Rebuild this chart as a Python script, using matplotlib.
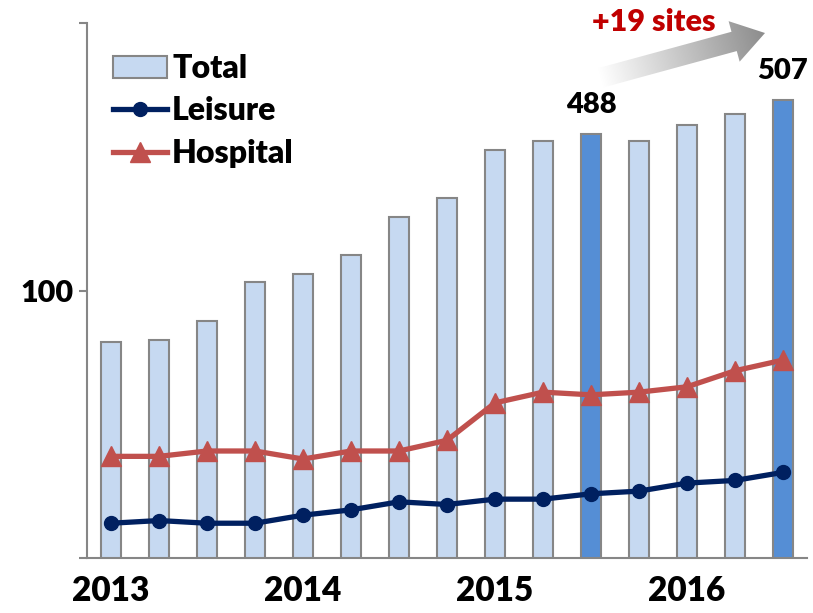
import numpy as np
import matplotlib
matplotlib.use("Agg")
import matplotlib.pyplot as plt
from matplotlib.patches import FancyArrow
from matplotlib.colors import LinearSegmentedColormap

# Datos (trimestrales, 2013 T1 - 2016 T3)
trimestres = np.arange(15)
total = [371, 372, 383, 405, 409, 420, 441, 452, 479, 484, 488, 484, 493, 499, 507]
leisure = [13, 14, 13, 13, 16, 18, 21, 20, 22, 22, 24, 25, 28, 29, 32]
hospital = [38, 38, 40, 40, 37, 40, 40, 44, 58, 62, 61, 62, 64, 70, 74]
destacados = [10, 14]
etiquetas_anio = ["2013", "2014", "2015", "2016"]
pos_anio = [0, 4, 8, 12]

FUENTE = ["Lato", "DejaVu Sans"]
GRIS = "#868686"

fig = plt.figure(figsize=(8.13, 6.13), dpi=100)
ax = fig.add_axes([87 / 813, 55 / 613, 720 / 813, 535 / 613])
axb = ax.twinx()
ax.set_zorder(axb.get_zorder() + 1)
ax.patch.set_visible(False)

# Barras (eje secundario oculto)
colores = ["#558ED5" if i in destacados else "#C6D9F1" for i in trimestres]
barras = axb.bar(trimestres, total, width=0.42, color=colores, edgecolor=GRIS,
                 linewidth=1.5, label="Total")
axb.set_ylim(250, 550)
axb.set_yticks([])
for s in axb.spines.values():
    s.set_visible(False)

for i in destacados:
    axb.annotate(str(total[i]), (trimestres[i], total[i]), xytext=(0, 11),
                 textcoords="offset points", ha="center", va="bottom",
                 fontsize=21, fontweight="heavy", family=FUENTE)

# Lineas
l1, = ax.plot(trimestres, leisure, color="#002060", lw=3.8, marker="o",
              markersize=10, label="Leisure")
l2, = ax.plot(trimestres, hospital, color="#C0504D", lw=3.8, marker="^",
              markersize=15, label="Hospital")
ax.set_ylim(0, 200)
ax.set_xlim(-0.5, 14.5)
ax.set_yticks([0, 100, 200])
ax.set_yticklabels(["", "100", ""], fontsize=22, fontweight="heavy", family=FUENTE)
ax.tick_params(axis="y", length=6, width=1.5, color=GRIS, pad=4)
ax.set_xticks(pos_anio)
ax.set_xticklabels(etiquetas_anio, fontsize=24, fontweight="heavy", family=FUENTE)
ax.tick_params(axis="x", length=0, pad=12)
for lado in ["top", "right"]:
    ax.spines[lado].set_visible(False)
for lado in ["left", "bottom"]:
    ax.spines[lado].set_color(GRIS)
    ax.spines[lado].set_linewidth(1.5)

leg = fig.legend([barras, l1, l2], ["Total", "Leisure", "Hospital"],
                 loc="upper left", bbox_to_anchor=(113 / 813, 1 - 54 / 613),
                 frameon=False, prop={"family": FUENTE, "weight": "heavy", "size": 23},
                 handlelength=1.7, handletextpad=0.15, labelspacing=0.42,
                 borderaxespad=0, borderpad=0)

# Flecha con degradado (+19 sites)
capa = fig.add_axes([0, 0, 1, 1])
capa.set_xlim(0, 813)
capa.set_ylim(613, 0)
capa.axis("off")
x0, y0, x1, y1 = 600, 78, 765, 33
flecha = FancyArrow(x0, y0, x1 - x0, y1 - y0, width=20, head_width=42,
                    head_length=32, length_includes_head=True,
                    facecolor="none", edgecolor="none")
capa.add_patch(flecha)
xx, yy = np.meshgrid(np.linspace(585, 780, 200), np.linspace(0, 100, 100))
d = np.array([x1 - x0, y1 - y0]) / np.hypot(x1 - x0, y1 - y0)
proy = ((xx - x0) * d[0] + (yy - y0) * d[1]) / np.hypot(x1 - x0, y1 - y0)
cmap = LinearSegmentedColormap.from_list("g", ["#FFFFFF", "#8C8C8C"])
img = capa.imshow(np.clip(proy, 0, 1), extent=[585, 780, 100, 0], cmap=cmap,
                  vmin=0, vmax=1, aspect="auto", origin="upper")
img.set_clip_path(flecha)
capa.text(654, 22, "+19 sites", color="#C00000", fontsize=22, fontweight="heavy",
          family=FUENTE, ha="center", va="center")

fig.savefig("out.png", dpi=100)
